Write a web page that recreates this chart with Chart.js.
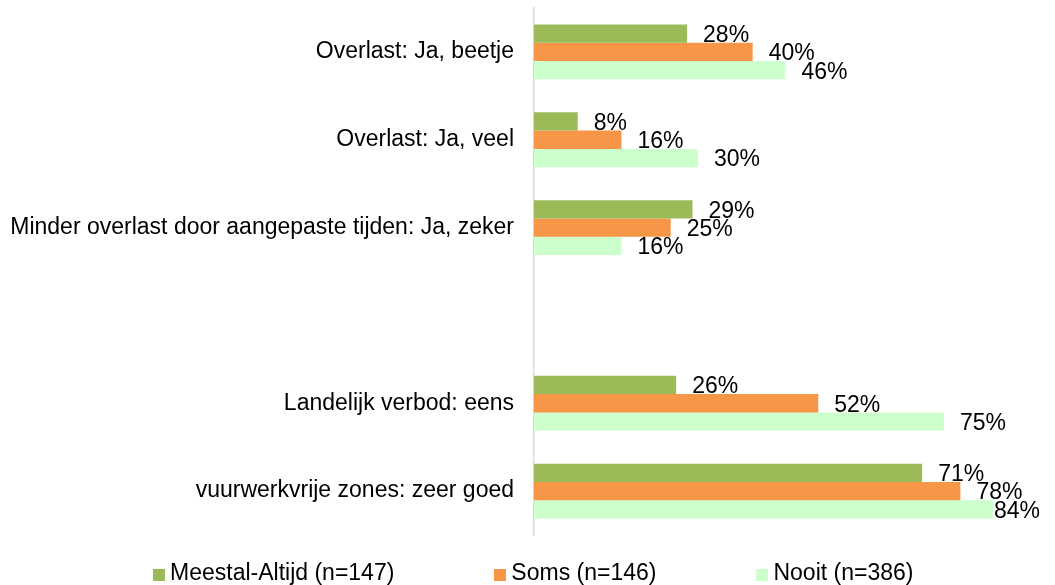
<!DOCTYPE html>
<html>
<head>
<meta charset="utf-8">
<script src="https://cdn.jsdelivr.net/npm/chart.js@4"></script>
<style>
  html, body { margin: 0; padding: 0; background: #fff; }
  #wrap { position: relative; width: 1055px; height: 585px; }
  #legend {
    position: absolute; left: 153px; top: 561px;
    display: flex; align-items: center; line-height: 23px;
    font-family: Arial, "Liberation Sans", sans-serif; font-size: 23px; color: #000;
  }
  #legend .item { display: flex; align-items: center; margin-right: 100px; }
  #legend .item:last-child { margin-right: 0; }
  #legend .box { width: 12px; height: 12px; margin-right: 5px; position: relative; top: 2px; }
</style>
</head>
<body>
<div id="wrap">
  <canvas id="chart" width="1055" height="585"></canvas>
  <div id="legend"></div>
</div>
<script>
const categories = [
  "Overlast: Ja, beetje",
  "Overlast: Ja, veel",
  "Minder overlast door aangepaste tijden: Ja, zeker",
  "",
  "Landelijk verbod: eens",
  "vuurwerkvrije zones: zeer goed",
];
const meestalAltijd = [28, 8, 29, null, 26, 71];
const soms = [40, 16, 25, null, 52, 78];
const nooit = [46, 30, 16, null, 75, 84];

const seriesNames = ["Meestal-Altijd (n=147)", "Soms (n=146)", "Nooit (n=386)"];
const seriesColors = ["#9BBB59", "#F79646", "#CCFFCC"];

const font = "Arial, 'Liberation Sans', sans-serif";

// value labels to the right of each bar
const barLabels = {
  id: "barLabels",
  afterDatasetsDraw(chart) {
    const ctx = chart.ctx;
    ctx.save();
    ctx.font = "23px " + font;
    ctx.fillStyle = "#000";
    ctx.textBaseline = "middle";
    chart.data.datasets.forEach((ds, i) => {
      chart.getDatasetMeta(i).data.forEach((bar, j) => {
        const v = ds.data[j];
        if (v == null) return;
        const text = v + "%";
        let x = bar.x + 16;
        const w = ctx.measureText(text).width;
        if (x + w > 1040) x = 1040 - w;
        ctx.fillText(text, x, bar.y + 2);
      });
    });
    ctx.restore();
  },
};

new Chart(document.getElementById("chart"), {
  type: "bar",
  data: {
    labels: categories,
    datasets: [
      { label: seriesNames[0], data: meestalAltijd, backgroundColor: seriesColors[0] },
      { label: seriesNames[1], data: soms, backgroundColor: seriesColors[1] },
      { label: seriesNames[2], data: nooit, backgroundColor: seriesColors[2] },
    ],
  },
  options: {
    indexAxis: "y",
    responsive: false,
    animation: false,
    categoryPercentage: 0.625,
    barPercentage: 1,
    layout: { padding: { top: 8, bottom: 50, right: 29, left: 0 } },
    plugins: {
      legend: { display: false },
      tooltip: { enabled: false },
    },
    scales: {
      x: { display: false, min: 0, max: 90 },
      y: {
        afterFit: (s) => {
          s.width = 534;
          s.paddingTop = 0;
          s.paddingBottom = 0;
        },
        grid: { display: false, drawTicks: false },
        border: { display: true, color: "#D9D9D9", width: 1.5 },
        ticks: { color: "#000", font: { family: font, size: 23 }, padding: 20 },
      },
    },
  },
  plugins: [barLabels],
});

const legend = document.getElementById("legend");
seriesNames.forEach((name, i) => {
  const item = document.createElement("div");
  item.className = "item";
  item.innerHTML = '<span class="box" style="background:' + seriesColors[i] + '"></span><span>' + name + "</span>";
  legend.appendChild(item);
});
</script>
</body>
</html>
